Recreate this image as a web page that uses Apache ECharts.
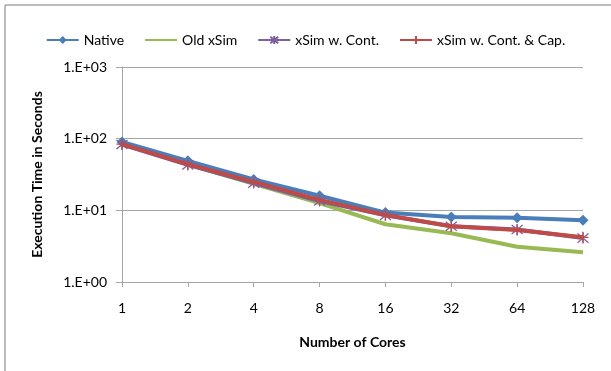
<!DOCTYPE html>
<html><head><meta charset="utf-8">
<script src="https://cdn.jsdelivr.net/npm/echarts@6/dist/echarts.min.js"></script>
<style>html,body{margin:0;padding:0;background:#fff}#c{width:611px;height:371px}</style>
</head><body><div id="c"></div>
<script>
var categories = ['1','2','4','8','16','32','64','128'];
var nativeVals = [90, 49, 27, 16, 9.3, 8.1, 7.9, 7.3];
var oldXSim = [86, 44, 23.5, 12.6, 6.4, 4.8, 3.1, 2.6];
var xSimCont = [83, 43, 24, 13.5, 8.5, 6.0, 5.4, 4.1];
var xSimContCap = [84, 44, 25, 14, 8.6, 6.0, 5.3, 4.2];
var seriesNames = ['Native', 'Old xSim', 'xSim w. Cont.', 'xSim w. Cont. & Cap.'];

var FONT = 'Lato, "Open Sans", sans-serif';
var chart = echarts.init(document.getElementById('c'), null, {renderer: 'canvas'});
var starPath = 'path://M0,0L10,10M10,0L0,10M5,-1L5,11';
var plusPath = 'path://M5,0L5,10M0,5L10,5';
chart.setOption({
  animation: false,
  textStyle: {fontFamily: FONT},
  graphic: [
    {type: 'line', shape: {x1: 5, y1: 5, x2: 611, y2: 5}, style: {stroke: '#a6a6a6', lineWidth: 1.5}},
    {type: 'line', shape: {x1: 5, y1: 5, x2: 5, y2: 371}, style: {stroke: '#a6a6a6', lineWidth: 1.5}}
  ],
  legend: {
    top: 28, left: 'center', itemWidth: 32, itemHeight: 10, itemGap: 20,
    textStyle: {fontSize: 14, color: '#000', fontFamily: FONT},
    data: [
      {name: seriesNames[0]},
      {name: seriesNames[1], itemStyle: {opacity: 0}},
      {name: seriesNames[2]},
      {name: seriesNames[3]}
    ]
  },
  grid: {left: 122, right: 28, top: 67, bottom: 89},
  xAxis: {
    type: 'category', data: categories, boundaryGap: false,
    name: 'Number of Cores', nameLocation: 'middle', nameGap: 53,
    nameTextStyle: {fontSize: 14, fontWeight: 'bold', color: '#000'},
    axisLine: {lineStyle: {color: '#a6a6a6', width: 1}},
    axisTick: {show: true, alignWithLabel: true, length: 5, lineStyle: {color: '#a6a6a6'}},
    axisLabel: {fontSize: 14, color: '#000', margin: 19}
  },
  yAxis: {
    type: 'log', logBase: 10, min: 1, max: 1000,
    name: 'Execution Time in Seconds', nameLocation: 'middle', nameGap: 78,
    nameTextStyle: {fontSize: 14, fontWeight: 'bold', color: '#000'},
    axisLine: {show: true, lineStyle: {color: '#a6a6a6'}},
    axisTick: {show: true, length: 6, lineStyle: {color: '#a6a6a6'}},
    splitLine: {show: true, lineStyle: {color: '#a6a6a6', width: 1}},
    axisLabel: {fontSize: 14, color: '#000', margin: 15, formatter: function (v) {
      var e = Math.round(Math.log10(v));
      return '1.E+' + (e < 10 ? '0' : '') + e;
    }}
  },
  series: [
    {name: seriesNames[1], type: 'line', data: oldXSim, symbol: 'none', z: 1,
     lineStyle: {color: '#98b954', width: 4}, itemStyle: {color: '#98b954'}},
    {name: seriesNames[0], type: 'line', data: nativeVals, symbol: 'diamond', symbolSize: 11, z: 2,
     lineStyle: {color: '#4a7ebb', width: 4}, itemStyle: {color: '#4a7ebb'}},
    {name: seriesNames[2], type: 'line', data: xSimCont, symbol: starPath, symbolSize: 11, z: 3,
     lineStyle: {color: '#7d60a0', width: 4},
     itemStyle: {color: '#7d60a0', borderColor: '#7d60a0', borderWidth: 1.3}},
    {name: seriesNames[3], type: 'line', data: xSimContCap, symbol: plusPath, symbolSize: 11, z: 4,
     lineStyle: {color: '#be4b48', width: 4},
     itemStyle: {color: '#be4b48', borderColor: '#be4b48', borderWidth: 1.3}}
  ]
});
</script></body></html>
